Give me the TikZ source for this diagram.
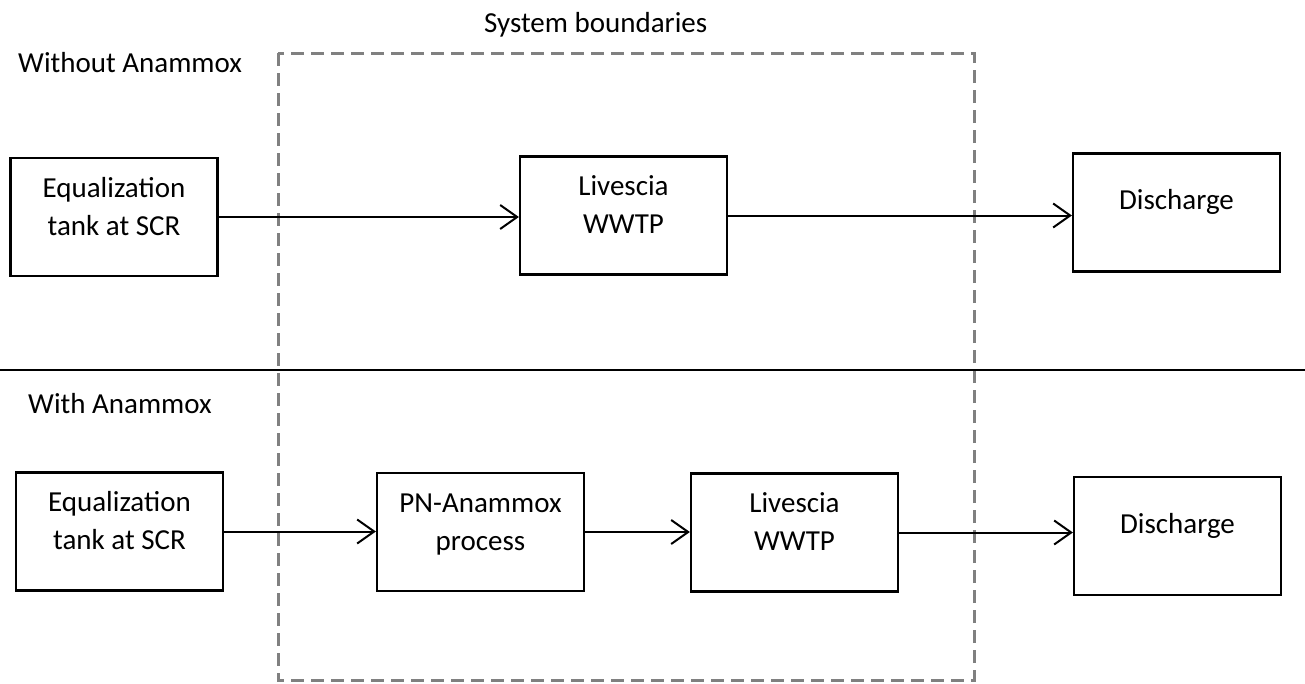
\documentclass[tikz,border=0pt]{standalone}
\usepackage{fontspec}
\setmainfont{Carlito}
\usepackage{tikz}
\usetikzlibrary{arrows.meta}
\pgfdeclarelayer{edgelayer}
\pgfdeclarelayer{nodelayer}
\pgfsetlayers{edgelayer,nodelayer,main}
\tikzstyle{none}=[inner sep=0pt, font=\fontsize{29}{38}\selectfont]
\tikzstyle{stage}=[draw=black, line width=2.2pt, minimum width=207pt, minimum height=118pt, align=center, font=\fontsize{29}{38}\selectfont, text height=56pt, text depth=20pt]
\tikzstyle{single}=[text height=20pt, text depth=26pt]
\tikzstyle{flow}=[-{Straight Barb[length=17pt,width=24pt]}, draw=black, line width=2pt]
\tikzstyle{boundary}=[draw=black!50, line width=3pt, dash pattern=on 13pt off 7pt]

\begin{document}
\begin{tikzpicture}[x=1pt, y=-1pt]
	\useasboundingbox (0,0) rectangle (1305,683);
	\begin{pgfonlayer}{nodelayer}
		\node [style=stage] (0) at (114, 217) {Equalization\\tank at SCR};
		\node [style=stage] (1) at (623.5, 215.5) {Livescia\\WWTP};
		\node [style=stage, style=single] (2) at (1176.5, 212.5) {Discharge};
		\node [style=stage] (3) at (119.5, 531.5) {Equalization\\tank at SCR};
		\node [style=stage] (4) at (480.5, 532) {PN-Anammox\\process};
		\node [style=stage] (5) at (794.5, 532.5) {Livescia\\WWTP};
		\node [style=stage, style=single] (6) at (1177.5, 536) {Discharge};
		\node [style=none, anchor=base west] (7) at (484, 32) {System boundaries};
		\node [style=none, anchor=base west] (8) at (18, 72) {Without Anammox};
		\node [style=none, anchor=base west] (9) at (28, 413) {With Anammox};
		\coordinate (10) at (0, 370);
		\coordinate (11) at (1305, 370);
	\end{pgfonlayer}
	\begin{pgfonlayer}{edgelayer}
		\draw [style=boundary] (278, 53) rectangle (974, 680);
		\draw [line width=2pt] (10) -- (11);
		\draw [style=flow] (0.east) -- (0.east -| 1.west);
		\draw [style=flow] (1.east) -- (1.east -| 2.west);
		\draw [style=flow] (3.east) -- (3.east -| 4.west);
		\draw [style=flow] (4.east) -- (4.east -| 5.west);
		\draw [style=flow] (5.east) -- (5.east -| 6.west);
	\end{pgfonlayer}
\end{tikzpicture}
\end{document}
